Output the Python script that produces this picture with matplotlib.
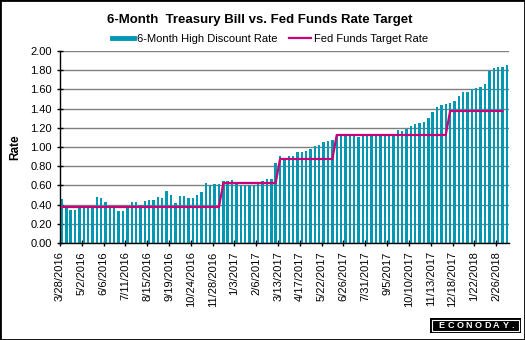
import numpy as np
import matplotlib.pyplot as plt
from matplotlib.lines import Line2D
from matplotlib.patches import Rectangle

plt.rcParams['font.family'] = ['Liberation Sans', 'DejaVu Sans']

# Weekly 6-month bill auction high discount rate (%), 3/28/2016 .. 3/12/2018
bill_rate = [
    0.46, 0.37, 0.34, 0.34, 0.39, 0.39, 0.37, 0.37, 0.475, 0.465,
    0.425, 0.39, 0.39, 0.33, 0.33, 0.37, 0.43, 0.43, 0.395, 0.44,
    0.45, 0.45, 0.48, 0.47, 0.54, 0.50, 0.415, 0.49, 0.49, 0.47,
    0.47, 0.50, 0.53, 0.625, 0.605, 0.615, 0.615, 0.645, 0.645, 0.655,
    0.62, 0.605, 0.605, 0.605, 0.60, 0.615, 0.645, 0.665, 0.665, 0.835,
    0.905, 0.87, 0.905, 0.905, 0.95, 0.95, 0.96, 0.98, 1.01, 1.02,
    1.05, 1.06, 1.07, 1.12, 1.12, 1.12, 1.12, 1.12, 1.10, 1.12,
    1.12, 1.12, 1.12, 1.12, 1.12, 1.12, 1.12, 1.175, 1.165, 1.185,
    1.22, 1.24, 1.25, 1.26, 1.30, 1.365, 1.415, 1.44, 1.45, 1.46,
    1.48, 1.53, 1.57, 1.57, 1.605, 1.615, 1.625, 1.655, 1.79, 1.82,
    1.835, 1.835, 1.855,
]

# Fed funds target (range midpoint) and the number of weeks at each level
fed_levels = [0.375, 0.625, 0.875, 1.125, 1.375]
fed_weeks = [37, 13, 13, 26, 13]

# every fifth auction date is labelled
tick_labels = [
    '3/28/2016', '5/2/2016', '6/6/2016', '7/11/2016', '8/15/2016',
    '9/19/2016', '10/24/2016', '11/28/2016', '1/3/2017', '2/6/2017',
    '3/13/2017', '4/17/2017', '5/22/2017', '6/26/2017', '7/31/2017',
    '9/5/2017', '10/10/2017', '11/13/2017', '12/18/2017', '1/22/2018',
    '2/26/2018',
]

BAR_COLOR = '#0098B3'
FED_COLOR = '#CC0079'
W, H = 525, 340

x = np.arange(len(bill_rate))
fed = np.repeat(fed_levels, fed_weeks)

fig = plt.figure(figsize=(W / 100, H / 100), dpi=100)
ax = fig.add_axes([60 / W, 1 - 243 / H, (509 - 60) / W, (243 - 51) / H])

ax.bar(x, bill_rate, width=0.55, color=BAR_COLOR, zorder=2)
ax.plot(x[:len(fed)], fed, color=FED_COLOR, lw=1.6, zorder=3)

ax.set_ylim(0, 2)
ax.set_yticks(np.arange(0, 2.01, 0.2))
ax.set_yticklabels([f'{v:.2f}' for v in np.arange(0, 2.01, 0.2)])
ax.set_xlim(-0.45, len(bill_rate) - 0.5)
ax.set_xticks(np.arange(0, len(tick_labels) * 5, 5) - 0.45)
ax.set_xticklabels(tick_labels, rotation=90)

ax.yaxis.grid(True, color='#808080', lw=1.0)
ax.set_axisbelow(True)
for side in ('top', 'right'):
    ax.spines[side].set_visible(False)
for side in ('left', 'bottom'):
    ax.spines[side].set_color('black')
    ax.spines[side].set_linewidth(1.0)
ax.tick_params(direction='inout', length=5, width=1, labelsize=8, colors='black')

ax.set_ylabel('Rate', fontsize=8.5, fontweight='bold', labelpad=6)

fig.text(0.494, 1 - 20 / H, '6-Month  Treasury Bill vs. Fed Funds Rate Target',
         ha='center', va='center', fontsize=9.5, fontweight='bold')

handles = [Line2D([], [], color=BAR_COLOR, lw=3.5),
           Line2D([], [], color=FED_COLOR, lw=1.6)]
fig.legend(handles, ['6-Month High Discount Rate', 'Fed Funds Target Rate'],
           loc='center', bbox_to_anchor=(270 / W, 1 - 39 / H), ncol=2,
           frameon=False, fontsize=8, handlelength=2.0, handletextpad=0.3,
           columnspacing=1.0)

# logo box in the bottom right corner
fig.patches.append(Rectangle((430 / W, 1 - 333 / H), 91 / W, 15 / H,
                             transform=fig.transFigure, facecolor='black',
                             edgecolor='none'))
fig.patches.append(Rectangle((432 / W, 1 - 331 / H), 87 / W, 11 / H,
                             transform=fig.transFigure, facecolor='none',
                             edgecolor='white', lw=0.8))
for k, ch in enumerate('ECONODAY.'):
    fig.text((438 + k * 9.2) / W, 1 - 325.5 / H, ch, color='white',
             fontsize=6.5, fontweight='bold', ha='left', va='center')

# outer frame
fig.patches.append(Rectangle((0, 0), 1, 1, transform=fig.transFigure,
                             fill=False, edgecolor='black', lw=2))

fig.savefig('out.png', dpi=100)
